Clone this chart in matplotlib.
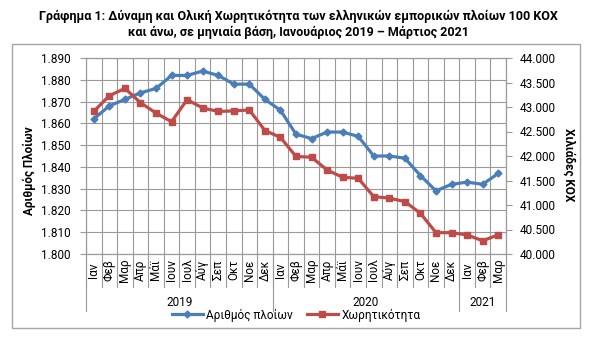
import matplotlib
matplotlib.use("Agg")
import matplotlib.pyplot as plt
from matplotlib.patches import Rectangle
from matplotlib.ticker import FuncFormatter, MultipleLocator
from matplotlib.lines import Line2D

plt.rcParams['font.family'] = ['Roboto', 'DejaVu Sans']

months = ["Ιαν", "Φεβ", "Μαρ", "Απρ", "Μάϊ", "Ιουν", "Ιουλ", "Αύγ", "Σεπ", "Οκτ", "Νοε", "Δεκ",
          "Ιαν", "Φεβ", "Μαρ", "Απρ", "Μάϊ", "Ιουν", "Ιουλ", "Αύγ", "Σεπ", "Οκτ", "Νοε", "Δεκ",
          "Ιαν", "Φεβ", "Μαρ"]
years = ["2019", "2020", "2021"]
year_counts = [12, 12, 3]

ships = [1862, 1868, 1871, 1874, 1876, 1882, 1882, 1884, 1882, 1878, 1878, 1871,
         1866, 1855, 1853, 1856, 1856, 1854, 1845, 1845, 1844, 1836, 1829, 1832,
         1833, 1832, 1837]
tonnage = [42910, 43230, 43380, 43090, 42875, 42700, 43150, 42980, 42910, 42920, 42940, 42520,
           42380, 41990, 41975, 41715, 41565, 41545, 41170, 41140, 41070, 40830, 40435, 40435,
           40390, 40270, 40390]

series_names = ["Αριθμός πλοίων", "Χωρητικότητα"]
title = ("Γράφημα 1: Δύναμη και Ολική Χωρητικότητα των ελληνικών εμπορικών πλοίων 100 ΚΟΧ\n"
         "και άνω, σε μηνιαία βάση, Ιανουάριος 2019 – Μάρτιος 2021")

W, H = 596, 341
fig = plt.figure(figsize=(W / 100, H / 100), dpi=100)

def fx(px):
    return px / W

def fy(py):
    return 1 - py / H

# outer chart border
fig.patches.append(Rectangle((fx(12), fy(328)), fx(580) - fx(12), fy(44) - fy(328),
                             transform=fig.transFigure, fill=False, edgecolor='#a6a6a6',
                             linewidth=1.0))

L, R, T, B = 86, 506, 58, 254
ax = fig.add_axes([fx(L), fy(B), fx(R) - fx(L), fy(T) - fy(B)])
ax2 = ax.twinx()

blue = '#4a7ebb'
red = '#be4b48'
grid_c = '#9a9a9a'

n = len(months)
x = list(range(n))
ax.plot(x, ships, color=blue, lw=2.3, marker='D', ms=3.5, zorder=3, clip_on=False)
ax2.plot(x, tonnage, color=red, lw=2.3, marker='s', ms=4, zorder=3, clip_on=False)

ax.set_xlim(-0.5, n - 0.5)
ax.set_ylim(1800, 1890)
ax2.set_ylim(40000, 44000)
ax.yaxis.set_major_locator(MultipleLocator(10))
ax2.yaxis.set_major_locator(MultipleLocator(500))

def dotfmt(v, pos):
    return f"{int(round(v)):,}".replace(",", ".")

ax.yaxis.set_major_formatter(FuncFormatter(dotfmt))
ax2.yaxis.set_major_formatter(FuncFormatter(dotfmt))

# gridlines
for v in range(1800, 1891, 10):
    ax.axhline(v, color=grid_c, lw=0.8, zorder=1)
for i in range(n + 1):
    ax.axvline(i - 0.5, color=grid_c, lw=0.8, zorder=1)

for a in (ax, ax2):
    for s in a.spines.values():
        s.set_color(grid_c)
        s.set_linewidth(0.8)
ax.tick_params(axis='y', length=4, width=0.8, color=grid_c, pad=7, labelsize=8.5)
ax2.tick_params(axis='y', length=4, width=0.8, color=grid_c, pad=6, labelsize=8.5)

ax.set_xticks(x)
ax.set_xticklabels([])
ax.tick_params(axis='x', length=0)

axh = B - T
trans = ax.get_xaxis_transform()
# month labels
for i, m in enumerate(months):
    ax.text(i, -(270 - B) / axh, m, rotation=90, ha='center', va='center',
            fontsize=8.5, transform=trans, clip_on=False)
# separators
for i in range(n + 1):
    ax.plot([i - 0.5, i - 0.5], [0, -(287 - B) / axh], color=grid_c, lw=0.8,
            transform=trans, clip_on=False)
start = 0
bounds = [0]
for c in year_counts:
    start += c
    bounds.append(start)
for b in bounds:
    ax.plot([b - 0.5, b - 0.5], [0, -(311 - B) / axh], color=grid_c, lw=0.8,
            transform=trans, clip_on=False)
for yr, b0, b1 in zip(years, bounds[:-1], bounds[1:]):
    ax.text((b0 + b1 - 1) / 2, -(302 - B) / axh, yr, ha='center', va='center',
            fontsize=8.5, transform=trans, clip_on=False)

# axis titles
fig.text(fx(29), fy(171), "Αριθμός Πλοίων", rotation=90, ha='center', va='center',
         fontsize=8.5, fontweight='bold')
fig.text(fx(569), fy(165), "Χιλιάδες ΚΟΧ", rotation=270, ha='center', va='center',
         fontsize=8.5, fontweight='bold')

# title
fig.text(0.5, fy(24.5), title, ha='center', va='center', fontsize=9,
         fontweight='bold', linespacing=1.35)

handles = [Line2D([], [], color=blue, lw=2.3, marker='D', ms=3.5),
           Line2D([], [], color=red, lw=2.3, marker='s', ms=4)]
fig.legend(handles, series_names, loc='center', bbox_to_anchor=(fx(296), fy(315)),
           ncol=2, frameon=False, fontsize=8.5, handlelength=2.6, handletextpad=0.3,
           columnspacing=1.2, borderpad=0)

fig.savefig("out.png", dpi=100)
